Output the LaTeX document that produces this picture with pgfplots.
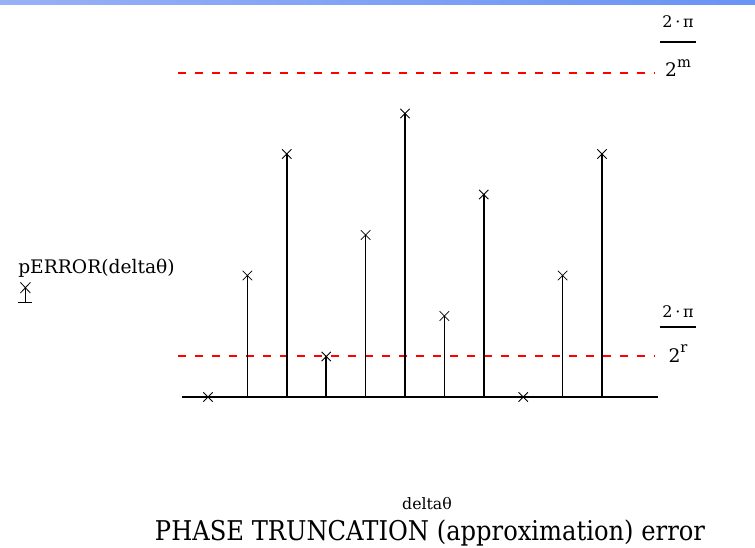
\documentclass[border=0pt]{standalone}
\usepackage{amsmath}
\usepackage{fontspec}
\setmainfont{DejaVu Serif}
\usepackage{pgfplots}
\pgfplotsset{compat=1.18}
\definecolor{barL}{RGB}{152,176,246}
\definecolor{barR}{RGB}{104,148,244}
\newcommand{\fracnum}{{\fontsize{12}{12}\selectfont 2\,·\,π}}
\newcommand{\fracden}[1]{{\fontsize{14}{14}\selectfont 2}\raisebox{7pt}{\fontsize{11}{11}\selectfont #1}}
\begin{document}
\begin{tikzpicture}
\useasboundingbox (0,0) rectangle (566.25pt,411pt);
\shade[left color=barL, right color=barR] (0,407.25pt) rectangle (566.25pt,411pt);
\begin{axis}[
  at={(132.36pt,113.25pt)}, anchor=south west,
  scale only axis, width=363.465pt, height=243pt,
  xmin=-0.8, xmax=11.5, ymin=0, ymax=8,
  axis lines=none, clip=false,
  legend style={at={(axis description cs:-0.327,0.355)}, anchor=north west, draw=none, fill=none, inner sep=0pt, outer sep=0pt, nodes={inner sep=0pt}},
  legend cell align=left,
]
\addplot[red, line width=1.5pt, dash pattern=on 6pt off 6.75pt, forget plot] coordinates {(-0.76,1) (11.35,1)};
\addplot[red, line width=1.5pt, dash pattern=on 6pt off 6.75pt, forget plot] coordinates {(-0.76,8) (11.35,8)};
\addplot[black, line width=1pt, forget plot] coordinates {(-0.66,0) (11.42,0)};
\addplot[ycomb, black, line width=1.1pt, mark=x, mark options={line width=0.6pt, mark size=5pt},
  legend image code/.code={
    \draw[line width=0.6pt] (0pt,-7pt)--(10.5pt,-7pt);
    \draw[line width=0.6pt] (5.25pt,-7pt)--(5.25pt,4pt);
    \draw[line width=0.6pt] (1.5pt,0pt)--(9pt,8pt) (1.5pt,8pt)--(9pt,0pt);
  }] coordinates {
  (0,0) (1,3) (2,6) (3,1) (4,4) (5,7) (6,2) (7,5) (8,0) (9,3) (10,6)
};
\addlegendentry{}
% y label
\node[anchor=base west, inner sep=0pt, font=\fontsize{14}{14}\selectfont] at (axis description cs:-0.3270,0.3827) {pERROR(deltaθ)};
% x label
\node[anchor=base, inner sep=0pt, font=\fontsize{11.8}{12}\selectfont] at (axis description cs:0.5169,-0.3457) {deltaθ};
% title
\node[anchor=base, inner sep=0pt] at (axis description cs:0.5231,-0.4444) {\resizebox{412.5pt}{15.5pt}{PHASE TRUNCATION (approximation) error}};
% right-hand fraction labels: 2*pi / 2^m and 2*pi / 2^r
\node[anchor=base, inner sep=0pt] at (axis description cs:1.0349,1.1389) {\fracnum};
\node[inner sep=0pt] at (axis description cs:1.0349,1.0957) {\rule{27pt}{1.2pt}};
\node[anchor=base, inner sep=0pt] at (axis description cs:1.0349,0.9877) {\fracden{m}};
\node[anchor=base, inner sep=0pt] at (axis description cs:1.0349,0.2469) {\fracnum};
\node[inner sep=0pt] at (axis description cs:1.0349,0.2160) {\rule{27pt}{1.2pt}};
\node[anchor=base, inner sep=0pt] at (axis description cs:1.0349,0.1080) {\fracden{r}};
\end{axis}
\end{tikzpicture}
\end{document}
